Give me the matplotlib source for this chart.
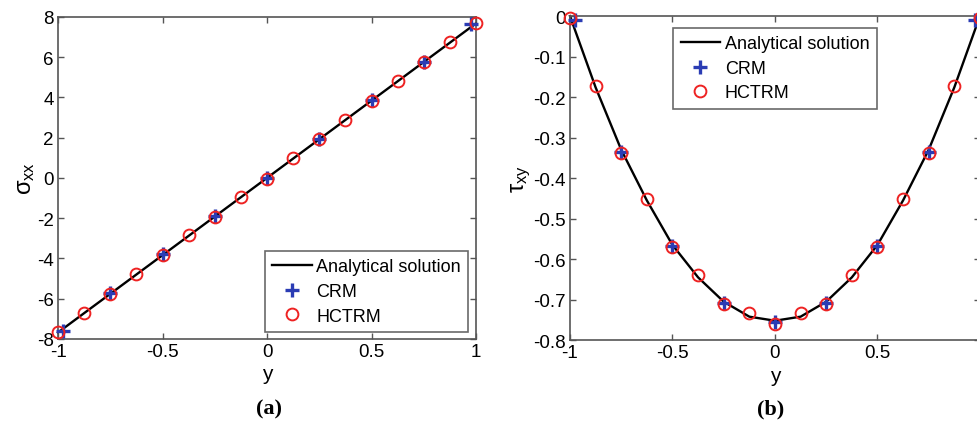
import numpy as np
import matplotlib
matplotlib.use("Agg")
import matplotlib.pyplot as plt

plt.rcParams['font.family'] = ['Liberation Sans', 'DejaVu Sans']
plt.rcParams['axes.unicode_minus'] = False
plt.rcParams['mathtext.fontset'] = 'custom'
plt.rcParams['mathtext.rm'] = 'Liberation Sans'
plt.rcParams['mathtext.it'] = 'Liberation Sans'

# analytical curve samples
y_line = [-1, -0.875, -0.75, -0.625, -0.5, -0.375, -0.25, -0.125, 0,
          0.125, 0.25, 0.375, 0.5, 0.625, 0.75, 0.875, 1]
sxx_line = [-7.68, -6.72, -5.76, -4.8, -3.84, -2.88, -1.92, -0.96, 0,
            0.96, 1.92, 2.88, 3.84, 4.8, 5.76, 6.72, 7.68]
txy_line = [0, -0.176, -0.33, -0.455, -0.565, -0.645, -0.705, -0.742, -0.752,
            -0.742, -0.705, -0.645, -0.565, -0.455, -0.33, -0.176, 0]

# CRM results
y_crm = [-0.975, -0.75, -0.5, -0.25, 0, 0.25, 0.5, 0.75, 0.975]
sxx_crm = [-7.62, -5.72, -3.8, -1.9, 0.02, 1.95, 3.88, 5.78, 7.65]
txy_crm = [-0.01, -0.335, -0.568, -0.708, -0.755, -0.708, -0.568, -0.335, -0.01]

# HCTRM results
y_hct = [-1, -0.875, -0.75, -0.625, -0.5, -0.375, -0.25, -0.125, 0,
         0.125, 0.25, 0.375, 0.5, 0.625, 0.75, 0.875, 1]
sxx_hct = [-7.68, -6.72, -5.78, -4.76, -3.82, -2.85, -1.92, -0.95, -0.03,
           0.98, 1.92, 2.88, 3.82, 4.8, 5.78, 6.74, 7.68]
txy_hct = [-0.005, -0.173, -0.337, -0.451, -0.57, -0.639, -0.71, -0.733, -0.76,
           -0.733, -0.71, -0.639, -0.57, -0.451, -0.337, -0.173, -0.005]

fig = plt.figure(figsize=(9.77, 4.27), dpi=100)
ax1 = fig.add_axes([0.0594, 0.204, 0.4278, 0.754])
ax2 = fig.add_axes([0.5834, 0.201, 0.4196, 0.759])

frame = '#555555'
for ax, yl, yc, yh, lab in [(ax1, sxx_line, sxx_crm, sxx_hct, r'$\sigma_{xx}$'),
                            (ax2, txy_line, txy_crm, txy_hct, r'$\tau_{xy}$')]:
    ax.plot(y_line, yl, color='black', lw=1.7, label='Analytical solution', zorder=2)
    ax.plot(y_crm, yc, '+', color='#2a3cb4', ms=10, mew=2.4, label='CRM', zorder=3)
    ax.plot(y_hct, yh, 'o', mfc='none', mec='#ee2222', ms=8.5, mew=1.4, label='HCTRM', zorder=4)
    ax.set_xlim(-1, 1)
    ax.set_xticks([-1, -0.5, 0, 0.5, 1])
    ax.tick_params(direction='in', top=True, right=True, labelsize=13.5,
                   color=frame, length=4, width=1, pad=3)
    for s in ax.spines.values():
        s.set_color(frame)
        s.set_linewidth(1.2)
    ax.set_xlabel('y', fontsize=15, labelpad=3)
    ax.set_ylabel(lab, fontsize=17, labelpad=0)

ax1.set_xticklabels(['-1', '-0.5', '0', '0.5', '1'])
ax2.set_xticklabels(['-1', '-0.5', '0', '0.5', ''])
ax1.set_ylim(-8, 8)
ax1.set_yticks([-8, -6, -4, -2, 0, 2, 4, 6, 8])
ax1.set_yticklabels(['-8', '-6', '-4', '-2', '0', '2', '4', '6', '8'])
ax2.set_ylim(-0.8, 0)
ax2.set_yticks([-0.8, -0.7, -0.6, -0.5, -0.4, -0.3, -0.2, -0.1, 0])
ax2.set_yticklabels(['-0.8', '-0.7', '-0.6', '-0.5', '-0.4', '-0.3', '-0.2', '-0.1', '0'])

for ax in (ax1, ax2):
    for line in ax.lines:
        line.set_clip_on(False)

leg_kw = dict(fontsize=13, frameon=True, fancybox=False, edgecolor='#444444',
              borderpad=0.4, labelspacing=0.42, handlelength=2.2, handletextpad=0.25,
              borderaxespad=0)
l1 = ax1.legend(loc='lower right', bbox_to_anchor=(0.981, 0.022), **leg_kw)
l2 = ax2.legend(loc='upper center', bbox_to_anchor=(0.5, 0.963), **leg_kw)
for l in (l1, l2):
    l.get_frame().set_linewidth(1.2)

fig.text(0.275, 0.04, '(a)', fontsize=16, fontweight='bold',
         family=['Liberation Serif'], ha='center', va='center')
fig.text(0.789, 0.04, '(b)', fontsize=16, fontweight='bold',
         family=['Liberation Serif'], ha='center', va='center')

fig.savefig('out.png', dpi=100)
